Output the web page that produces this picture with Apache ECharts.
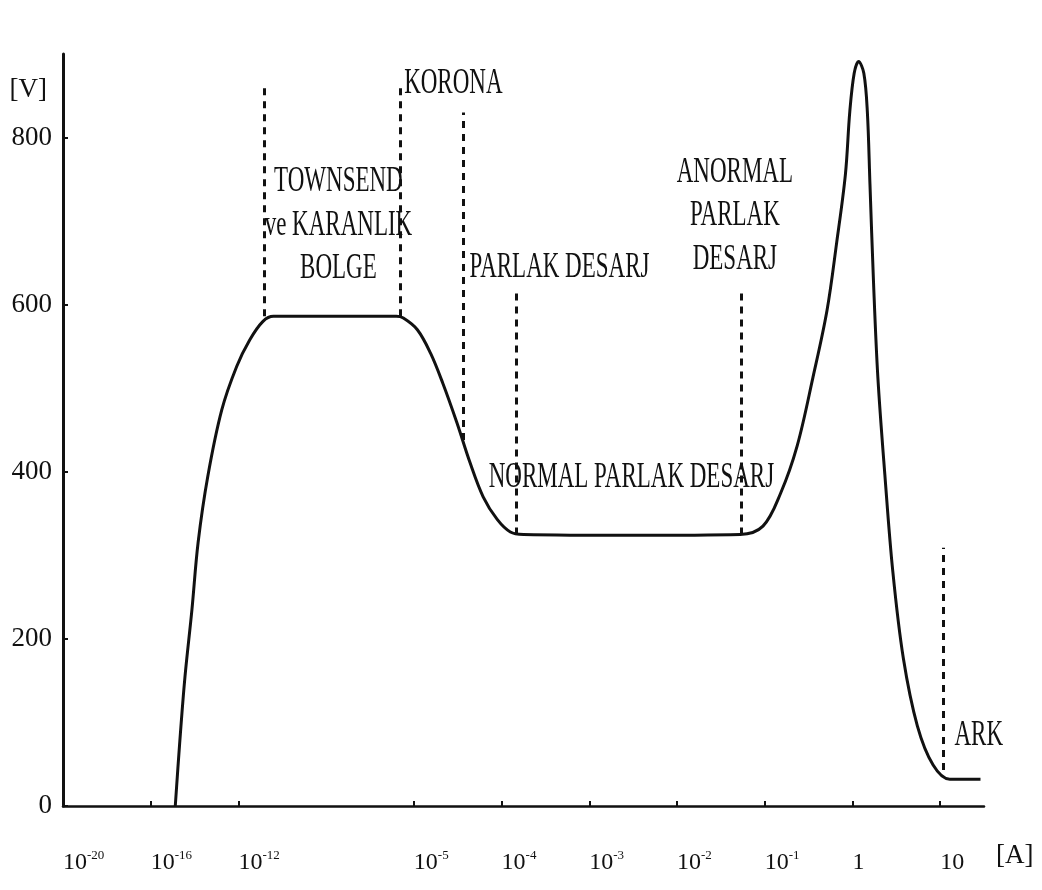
<!DOCTYPE html>
<html>
<head>
<meta charset="utf-8">
<script src="https://cdn.jsdelivr.net/npm/echarts@6/dist/echarts.min.js"></script>
<style>
  html, body { margin: 0; padding: 0; background: #ffffff; }
  #chart { width: 1042px; height: 890px; }
</style>
</head>
<body>
<div id="chart"></div>
<script>
// Gas discharge V-I characteristic. X positions are decade slots on a broken log axis.
var xTickPositions = [0, 1, 2, 4, 5, 6, 7, 8, 9, 10];
var xTickBases     = ['10', '10', '10', '10', '10', '10', '10', '10', '1', '10'];
var xTickExps      = ['-20', '-16', '-12', '-5', '-4', '-3', '-2', '-1', '', ''];
var yTickValues    = [0, 200, 400, 600, 800];

// Discharge curve: slot position and voltage [V]
var curveX = [1.28, 1.33, 1.39, 1.47, 1.54, 1.65, 1.81, 1.98, 2.13, 2.28, 2.40, 3.00, 3.80,
              3.88, 4.04, 4.19, 4.33, 4.49, 4.64, 4.79, 4.95, 5.10, 5.25, 6.50, 7.72,
              7.98, 8.18, 8.37, 8.55, 8.71, 8.82, 8.92, 8.97, 9.02, 9.07, 9.13, 9.17,
              9.20, 9.24, 9.29, 9.37, 9.46, 9.58, 9.74, 9.92, 10.11, 10.46];
var curveV = [0, 75, 154, 235, 315, 394, 474, 526, 558, 580, 586, 586, 586,
              584, 570, 542, 506, 459, 411, 370, 343, 328, 325, 324, 325,
              335, 374, 431, 513, 593, 674, 756, 831, 877, 891, 877, 831,
              744, 628, 513, 396, 281, 177, 96, 49, 32, 32];

// Region boundaries (dashed): slot position, lower and upper voltage
var boundX    = [2.30, 3.84, 4.56, 5.17, 7.73, 7.73, 9.06, 10.03];
var boundLow  = [586, 586, 438, 325, 836, 325, 893, 43];
var boundHigh = [863, 863, 830, 614, 905, 616, 965, 309];

// Region names and their anchor points
var regionNames = ['TOWNSEND\nve KARANLIK\nBOLGE', 'KORONA', 'PARLAK DESARJ',
                   'ANORMAL\nPARLAK\nDESARJ', 'NORMAL PARLAK DESARJ', 'ARK'];
var regionX = [3.14, 4.45, 5.66, 7.66, 6.48, 10.44];
var regionV = [695, 864, 644, 706, 393, 84];

var SERIF = '"Liberation Serif", "Times New Roman", serif';
var INK = '#111111';

var curveData = curveX.map(function (x, i) { return [x, curveV[i]]; });
var boundData = boundX.map(function (x, i) {
  return [{ coord: [x, boundLow[i]] }, { coord: [x, boundHigh[i]] }];
});
var regionData = regionX.map(function (x, i) { return [x, regionV[i], regionNames[i]]; });

var chart = echarts.init(document.getElementById('chart'), null, { renderer: 'canvas' });

chart.setOption({
  backgroundColor: '#ffffff',
  animation: false,
  grid: { left: 63, right: 58, top: 54, bottom: 84, containLabel: false },
  xAxis: {
    type: 'value',
    min: 0,
    max: 10.5,
    name: '[A]',
    nameLocation: 'end',
    nameGap: 12,
    nameTextStyle: { fontFamily: SERIF, fontSize: 27, color: INK, align: 'left',
                     verticalAlign: 'top', padding: [36, 0, 0, 0] },
    axisLine: { show: true, lineStyle: { color: INK, width: 2.5 } },
    axisTick: { show: true, inside: true, length: 5, customValues: xTickPositions,
                lineStyle: { color: INK, width: 2 } },
    splitLine: { show: false },
    axisLabel: {
      customValues: xTickPositions,
      align: 'left',
      verticalAlign: 'top',
      margin: 43,
      formatter: function (v) {
        var i = xTickPositions.indexOf(v);
        if (i < 0) return '';
        return '{b|' + xTickBases[i] + '}' + (xTickExps[i] ? '{s|' + xTickExps[i] + '}' : '');
      },
      rich: {
        b: { fontFamily: SERIF, fontSize: 24, lineHeight: 28, color: INK },
        s: { fontFamily: SERIF, fontSize: 13, lineHeight: 14, verticalAlign: 'top', color: INK }
      }
    }
  },
  yAxis: {
    type: 'value',
    min: 0,
    max: 900,
    name: '[V]',
    nameLocation: 'end',
    nameGap: -36,
    nameTextStyle: { fontFamily: SERIF, fontSize: 27, color: INK, align: 'right',
                     verticalAlign: 'middle', padding: [0, 16, 0, 0] },
    axisLine: { show: true, lineStyle: { color: INK, width: 3 } },
    axisTick: { show: true, inside: true, length: 5, customValues: yTickValues,
                lineStyle: { color: INK, width: 2 } },
    splitLine: { show: false },
    axisLabel: { customValues: yTickValues, fontFamily: SERIF, fontSize: 27,
                 color: INK, margin: 11 }
  },
  series: [
    {
      name: 'curve',
      type: 'line',
      data: curveData,
      smooth: 0.35,
      symbol: 'none',
      lineStyle: { color: INK, width: 3 },
      z: 3
    },
    {
      name: 'bounds',
      type: 'line',
      data: [],
      clip: false,
      symbol: 'none',
      markLine: {
        silent: true,
        symbol: ['none', 'none'],
        label: { show: false },
        lineStyle: { color: INK, width: 3, type: [7, 6] },
        data: boundData
      },
      z: 2
    },
    {
      name: 'regions',
      type: 'custom',
      clip: false,
      data: regionData,
      renderItem: function (params, api) {
        var p = api.coord([api.value(0), api.value(1)]);
        var text = regionNames[params.dataIndex];
        return {
          type: 'text',
          x: p[0],
          y: p[1],
          scaleY: 1.55,
          style: {
            text: text,
            fill: INK,
            fontFamily: SERIF,
            fontSize: 23,
            lineHeight: 28,
            align: 'center',
            verticalAlign: 'middle',
            textAlign: 'center',
            textVerticalAlign: 'middle'
          }
        };
      },
      z: 4
    }
  ]
});
</script>
</body>
</html>
